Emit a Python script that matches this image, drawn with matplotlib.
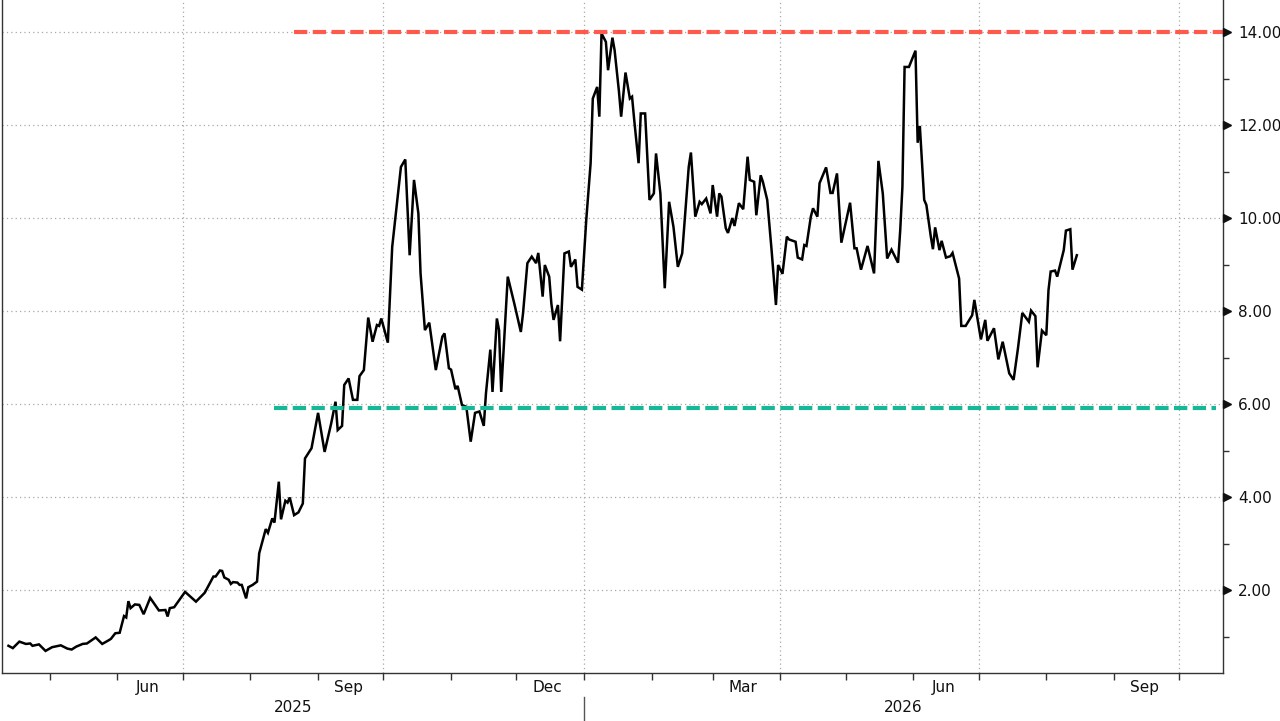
import matplotlib
matplotlib.use("Agg")
import matplotlib.pyplot as plt
import matplotlib.dates as mdates
import matplotlib.transforms as mtransforms
import pandas as pd

# price series
dates = [
    "2025-04-12", "2025-04-14", "2025-04-17", "2025-04-20", "2025-04-22", "2025-04-23",
    "2025-04-26", "2025-04-29", "2025-05-02", "2025-05-06", "2025-05-09", "2025-05-11",
    "2025-05-13", "2025-05-16", "2025-05-18", "2025-05-22", "2025-05-25", "2025-05-28",
    "2025-05-29", "2025-05-31", "2025-06-02", "2025-06-04", "2025-06-05", "2025-06-06",
    "2025-06-07", "2025-06-09", "2025-06-11", "2025-06-13", "2025-06-16", "2025-06-20",
    "2025-06-23", "2025-06-24", "2025-06-25", "2025-06-27", "2025-07-02", "2025-07-07",
    "2025-07-11", "2025-07-15", "2025-07-16", "2025-07-18", "2025-07-19", "2025-07-20",
    "2025-07-22", "2025-07-23", "2025-07-24", "2025-07-26", "2025-07-27", "2025-07-28",
    "2025-07-30", "2025-07-31", "2025-08-02", "2025-08-04", "2025-08-05", "2025-08-08",
    "2025-08-09", "2025-08-11", "2025-08-12", "2025-08-14", "2025-08-15", "2025-08-17",
    "2025-08-18", "2025-08-19", "2025-08-21", "2025-08-23", "2025-08-25", "2025-08-26",
    "2025-08-29", "2025-09-01", "2025-09-04", "2025-09-07", "2025-09-09", "2025-09-10",
    "2025-09-12", "2025-09-13", "2025-09-15", "2025-09-17", "2025-09-19", "2025-09-20",
    "2025-09-22", "2025-09-24", "2025-09-26", "2025-09-28", "2025-09-29", "2025-09-30",
    "2025-10-03", "2025-10-05", "2025-10-07", "2025-10-09", "2025-10-11", "2025-10-13",
    "2025-10-15", "2025-10-17", "2025-10-18", "2025-10-20", "2025-10-22", "2025-10-25",
    "2025-10-28", "2025-10-29", "2025-10-31", "2025-11-01", "2025-11-03", "2025-11-04",
    "2025-11-06", "2025-11-08", "2025-11-10", "2025-11-12", "2025-11-14", "2025-11-16",
    "2025-11-17", "2025-11-19", "2025-11-20", "2025-11-22", "2025-11-23", "2025-11-24",
    "2025-11-27", "2025-11-30", "2025-12-03", "2025-12-04", "2025-12-06", "2025-12-08",
    "2025-12-10", "2025-12-11", "2025-12-13", "2025-12-14", "2025-12-16", "2025-12-17",
    "2025-12-18", "2025-12-20", "2025-12-21", "2025-12-23", "2025-12-25", "2025-12-26",
    "2025-12-28", "2025-12-29", "2025-12-31",
    "2026-01-02", "2026-01-04", "2026-01-05", "2026-01-07", "2026-01-08", "2026-01-09",
    "2026-01-11", "2026-01-12", "2026-01-14", "2026-01-15", "2026-01-17", "2026-01-18",
    "2026-01-20", "2026-01-22", "2026-01-23", "2026-01-24", "2026-01-26", "2026-01-27",
    "2026-01-29", "2026-01-31", "2026-02-02", "2026-02-03", "2026-02-05", "2026-02-07",
    "2026-02-09", "2026-02-11", "2026-02-13", "2026-02-15", "2026-02-18", "2026-02-19",
    "2026-02-21", "2026-02-23", "2026-02-24", "2026-02-26", "2026-02-28", "2026-03-01",
    "2026-03-03", "2026-03-04", "2026-03-05", "2026-03-07", "2026-03-08", "2026-03-10",
    "2026-03-11", "2026-03-13", "2026-03-15", "2026-03-17", "2026-03-18", "2026-03-20",
    "2026-03-21", "2026-03-23", "2026-03-24", "2026-03-26", "2026-03-28", "2026-03-30",
    "2026-03-31", "2026-04-02", "2026-04-04", "2026-04-05", "2026-04-08", "2026-04-09",
    "2026-04-11", "2026-04-12", "2026-04-13", "2026-04-15", "2026-04-16", "2026-04-18",
    "2026-04-19", "2026-04-22", "2026-04-24", "2026-04-25", "2026-04-27", "2026-04-29",
    "2026-05-03", "2026-05-05", "2026-05-06", "2026-05-08", "2026-05-11", "2026-05-14",
    "2026-05-16", "2026-05-18", "2026-05-20", "2026-05-22", "2026-05-25", "2026-05-26",
    "2026-05-27", "2026-05-28", "2026-05-30", "2026-06-02", "2026-06-03", "2026-06-04",
    "2026-06-06", "2026-06-07", "2026-06-09", "2026-06-10", "2026-06-11", "2026-06-13",
    "2026-06-14", "2026-06-16", "2026-06-18", "2026-06-19", "2026-06-22", "2026-06-23",
    "2026-06-25", "2026-06-28", "2026-06-29", "2026-07-02", "2026-07-04", "2026-07-05",
    "2026-07-08", "2026-07-10", "2026-07-12", "2026-07-15", "2026-07-17", "2026-07-19",
    "2026-07-21", "2026-07-24", "2026-07-25", "2026-07-27", "2026-07-28", "2026-07-30",
    "2026-08-01", "2026-08-02", "2026-08-03", "2026-08-05", "2026-08-06", "2026-08-09",
    "2026-08-10", "2026-08-12", "2026-08-13", "2026-08-15",
]
prices = [
    0.80, 0.75, 0.89, 0.84, 0.85, 0.80,
    0.83, 0.69, 0.77, 0.81, 0.74, 0.72,
    0.78, 0.84, 0.85, 0.98, 0.84, 0.92,
    0.95, 1.07, 1.08, 1.44, 1.41, 1.76,
    1.61, 1.69, 1.68, 1.48, 1.83, 1.56,
    1.57, 1.43, 1.61, 1.63, 1.96, 1.75,
    1.94, 2.29, 2.29, 2.42, 2.41, 2.27,
    2.22, 2.13, 2.17, 2.16, 2.11, 2.11,
    1.82, 2.06, 2.11, 2.18, 2.79, 3.31,
    3.23, 3.54, 3.45, 4.33, 3.52, 3.92,
    3.88, 3.99, 3.61, 3.67, 3.86, 4.83,
    5.05, 5.81, 4.97, 5.58, 6.05, 5.44,
    5.53, 6.41, 6.55, 6.09, 6.09, 6.60,
    6.73, 7.86, 7.34, 7.70, 7.68, 7.84,
    7.32, 9.38, 10.24, 11.10, 11.26, 9.20,
    10.82, 10.10, 8.81, 7.59, 7.75, 6.73,
    7.45, 7.52, 6.77, 6.74, 6.32, 6.39,
    5.98, 5.94, 5.19, 5.81, 5.84, 5.53,
    6.23, 7.17, 6.26, 7.84, 7.59, 6.26,
    8.74, 8.16, 7.55, 7.95, 9.03, 9.17,
    9.03, 9.25, 8.31, 8.99, 8.74, 8.16,
    7.81, 8.13, 7.35, 9.24, 9.28, 8.95,
    9.11, 8.52, 8.46,
    9.96, 11.18, 12.57, 12.82, 12.18, 13.97,
    13.79, 13.18, 13.88, 13.61, 12.72, 12.18,
    13.13, 12.57, 12.61, 12.11, 11.18, 12.25,
    12.25, 10.39, 10.53, 11.39, 10.53, 8.49,
    10.35, 9.81, 8.95, 9.24, 11.10, 11.41,
    10.03, 10.35, 10.30, 10.42, 10.10, 10.71,
    10.03, 10.53, 10.46, 9.78, 9.68, 10.00,
    9.83, 10.32, 10.19, 11.32, 10.82, 10.78,
    10.06, 10.92, 10.78, 10.39, 9.31, 8.13,
    8.99, 8.80, 9.60, 9.54, 9.49, 9.15,
    9.11, 9.42, 9.40, 10.03, 10.21, 10.03,
    10.75, 11.09, 10.54, 10.54, 10.96, 9.47,
    10.33, 9.35, 9.35, 8.89, 9.40, 8.81,
    11.23, 10.53, 9.13, 9.32, 9.04, 9.74,
    10.67, 13.25, 13.25, 13.60, 11.62, 11.98,
    10.39, 10.28, 9.61, 9.33, 9.80, 9.31,
    9.51, 9.15, 9.18, 9.25, 8.70, 7.68,
    7.68, 7.91, 8.24, 7.39, 7.81, 7.36,
    7.63, 6.96, 7.34, 6.66, 6.52, 7.20,
    7.96, 7.77, 8.01, 7.89, 6.79, 7.58,
    7.48, 8.45, 8.85, 8.87, 8.74, 9.31,
    9.73, 9.76, 8.89, 9.20,
]

# reference levels
resistance = 14.0
resistance_from = "2025-08-21"
support = 5.92
support_from = "2025-08-12"
support_to = "2026-10-18"

x_start = "2025-04-09"
x_end = "2026-10-21"
y_ticks = [2, 4, 6, 8, 10, 12, 14]
month_labels = ["Jun", "Sep", "Dec", "Mar", "Jun", "Sep"]
month_label_dates = ["2025-06-15", "2025-09-15", "2025-12-15",
                     "2026-03-15", "2026-06-15", "2026-09-15"]
year_break = "2026-01-01"

d = pd.to_datetime(dates)
x0, x1 = pd.Timestamp(x_start), pd.Timestamp(x_end)
yb = pd.Timestamp(year_break)

fig = plt.figure(figsize=(12.8, 7.21), dpi=100)
ax = fig.add_axes([0.0015, 48 / 721, 1221 / 1280, 673 / 721])

ax.plot(d, prices, color="black", lw=1.8, zorder=3, solid_joinstyle="miter")
ax.hlines(resistance, pd.Timestamp(resistance_from), x1, colors="#ff5a4c",
          lw=3.0, linestyles=(0, (3.2, 1.3)), zorder=4, clip_on=False)
ax.hlines(support, pd.Timestamp(support_from), pd.Timestamp(support_to),
          colors="#17b897", lw=3.0, linestyles=(0, (3.2, 1.3)), zorder=4)

ax.set_xlim(x0, x1)
ax.set_ylim(0.215, 14.69)

# x axis: quarter grid, month ticks, labels centred in the month
ax.xaxis.set_major_locator(mdates.MonthLocator(bymonth=[1, 4, 7, 10]))
ax.xaxis.set_minor_locator(mdates.MonthLocator())
ax.xaxis.set_major_formatter(plt.NullFormatter())
ax.tick_params(axis="x", which="both", direction="out", length=5, width=1,
               color="#333333")

# y axis on the right
ax.yaxis.tick_right()
ax.set_yticks(y_ticks)
ax.set_yticks([1, 3, 5, 7, 9, 11, 13], minor=True)
ax.yaxis.set_major_formatter(plt.FuncFormatter(lambda v, p: f"{v:.2f}"))
ax.tick_params(axis="y", which="major", length=0, pad=11, labelsize=11,
               labelcolor="#111111")
ax.tick_params(axis="y", which="minor", direction="out", length=4, width=1,
               color="#333333", right=True, left=False)

# little arrow heads at the major y ticks
arrow_tr = ax.get_yaxis_transform() + mtransforms.ScaledTranslation(
    4 / 100, 0, fig.dpi_scale_trans)
ax.plot([1] * len(y_ticks), y_ticks, ls="none", marker=">", ms=5.5,
        color="#111111", transform=arrow_tr, clip_on=False, zorder=5)

ax.grid(which="major", color="#a8a8a8", ls=(0, (1, 2.5)), lw=0.9)
ax.set_axisbelow(True)

for s in ["left", "bottom", "right"]:
    ax.spines[s].set_color("#333333")
    ax.spines[s].set_linewidth(1.0)
ax.spines["top"].set_visible(False)

tr = ax.get_xaxis_transform()
for lab, md in zip(month_labels, month_label_dates):
    ax.text(pd.Timestamp(md), -0.022, lab, transform=tr, ha="center",
            va="center", fontsize=11, color="#111111")

ax.text(x0 + (yb - x0) / 2, -0.052, "2025", transform=tr, ha="center",
        va="center", fontsize=11, color="#111111")
ax.text(yb + (x1 - yb) / 2, -0.052, "2026", transform=tr, ha="center",
        va="center", fontsize=11, color="#111111")
ax.plot([yb, yb], [-0.036, -0.075], transform=tr, color="#555555", lw=1,
        clip_on=False)

fig.savefig("out.png", dpi=100, facecolor="white")
